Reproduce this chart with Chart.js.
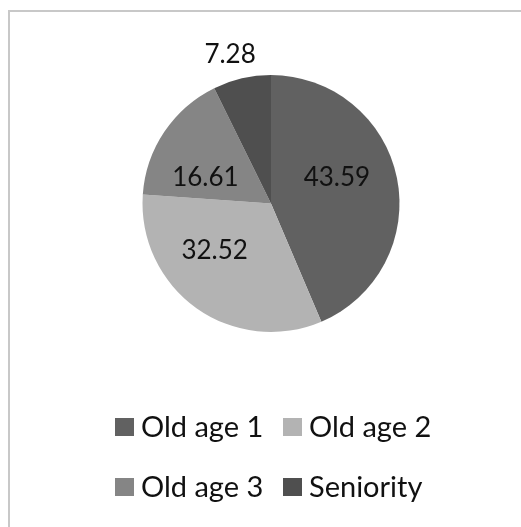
<!DOCTYPE html>
<html>
<head>
<meta charset="utf-8">
<script src="https://cdn.jsdelivr.net/npm/chart.js@4/dist/chart.umd.min.js"></script>
<style>
  html, body { margin: 0; padding: 0; background: #ffffff; overflow: hidden; }
  #wrap { position: relative; width: 521px; height: 527px; }
</style>
</head>
<body>
<div id="wrap"><canvas id="c" width="521" height="527"></canvas></div>
<script>
// Share of each age group
const categories = ['Old age 1', 'Old age 2', 'Old age 3', 'Seniority'];
const shares = [43.59, 32.52, 16.61, 7.28];
const sliceColors = ['#616161', '#b3b3b3', '#858585', '#4f4f4f'];

// Where each value label sits: angle shift (deg, clockwise) from the slice middle,
// and distance from the centre as a fraction of the radius (or radius + px when outside)
const labelPlacement = [
  { shift: -9.6, frac: 0.55 },
  { shift: 14.8, frac: 0.57 },
  { shift: -12, frac: 0.55 },
  { shift: -2.3, outside: 25.5 }
];

const FONT = 'Lato, "Open Sans", sans-serif';

// Light frame around the chart
const framePlugin = {
  id: 'frame',
  beforeDraw(chart) {
    const ctx = chart.ctx;
    ctx.save();
    ctx.strokeStyle = '#c8c8c8';
    ctx.lineWidth = 2;
    ctx.beginPath();
    ctx.moveTo(9, 540);
    ctx.lineTo(9, 11);
    ctx.lineTo(540, 11);
    ctx.stroke();
    ctx.restore();
  }
};

// Value labels on the slices
const valueLabels = {
  id: 'valueLabels',
  afterDatasetsDraw(chart) {
    const ctx = chart.ctx;
    const meta = chart.getDatasetMeta(0);
    const values = chart.data.datasets[0].data;
    ctx.save();
    ctx.font = '26px ' + FONT;
    ctx.fillStyle = '#111111';
    ctx.textAlign = 'center';
    ctx.textBaseline = 'middle';
    meta.data.forEach((arc, i) => {
      const p = arc.getProps(['x', 'y', 'startAngle', 'endAngle', 'outerRadius'], true);
      const place = labelPlacement[i];
      const mid = (p.startAngle + p.endAngle) / 2 + place.shift * Math.PI / 180;
      const d = place.outside !== undefined ? p.outerRadius + place.outside : p.outerRadius * place.frac;
      ctx.fillText(values[i].toFixed(2), p.x + Math.cos(mid) * d, p.y + Math.sin(mid) * d);
    });
    ctx.restore();
  }
};

// Two-column legend under the pie
const gridLegend = {
  id: 'gridLegend',
  afterDraw(chart) {
    const ctx = chart.ctx;
    const ds = chart.data.datasets[0];
    const colX = [115, 283];
    const rowY = [427, 487];
    ctx.save();
    ctx.font = '29px ' + FONT;
    ctx.textBaseline = 'middle';
    ctx.textAlign = 'left';
    chart.data.labels.forEach((lab, i) => {
      const x = colX[i % 2];
      const y = rowY[Math.floor(i / 2)];
      ctx.fillStyle = ds.backgroundColor[i];
      ctx.fillRect(x, y - 9, 19, 18);
      ctx.fillStyle = '#111111';
      ctx.fillText(lab, x + 26, y + 1);
    });
    ctx.restore();
  }
};

new Chart(document.getElementById('c'), {
  type: 'pie',
  data: {
    labels: categories,
    datasets: [{
      data: shares,
      backgroundColor: sliceColors,
      borderWidth: 0
    }]
  },
  options: {
    responsive: false,
    animation: false,
    layout: { padding: { top: 75, bottom: 195, left: 142.5, right: 121.5 } },
    plugins: {
      legend: { display: false },
      tooltip: { enabled: false }
    }
  },
  plugins: [framePlugin, valueLabels, gridLegend]
});
</script>
</body>
</html>
